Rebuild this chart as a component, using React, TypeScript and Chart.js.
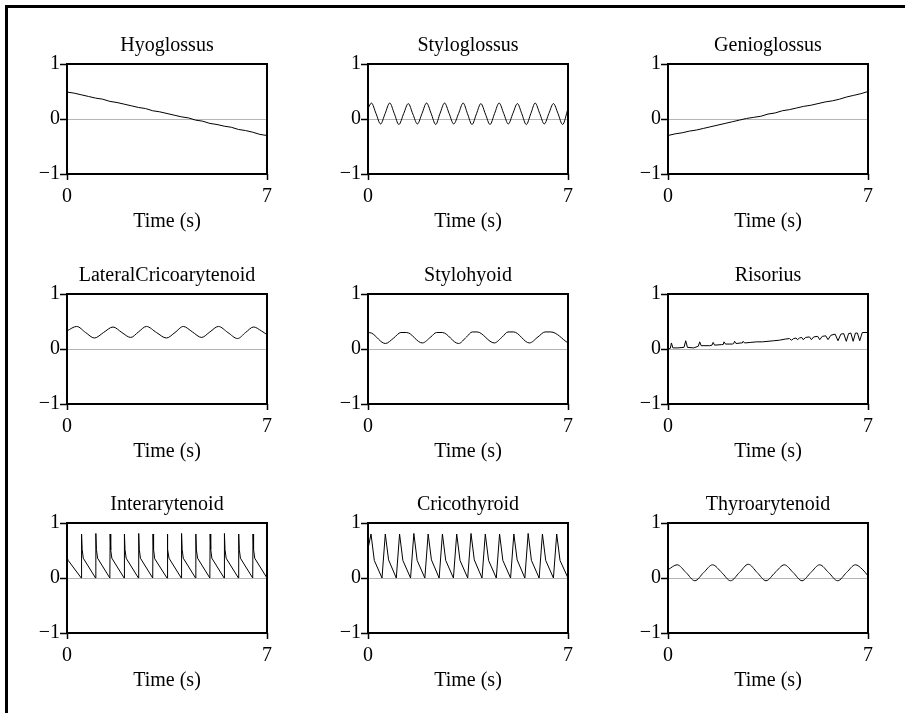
import React, { useEffect, useRef } from "react";
import { Chart, registerables } from "chart.js";

Chart.register(...registerables);

// ---------- data ----------
const TIME_TICKS = [0, 7];
const VALUE_TICKS = [-1, 0, 1];
const X_TITLE = "Time (s)";

const TITLES = [
  "Hyoglossus",
  "Styloglossus",
  "Genioglossus",
  "LateralCricoarytenoid",
  "Stylohyoid",
  "Risorius",
  "Interarytenoid",
  "Cricothyroid",
  "Thyroarytenoid",
];

const HYO_T = [0, 0.25, 0.5, 0.75, 1, 1.25, 1.5, 1.75, 2, 2.25, 2.5, 2.75, 3, 3.25, 3.5, 3.75, 4, 4.25, 4.5, 4.75, 5, 5.25, 5.5, 5.75, 6, 6.25, 6.5, 6.75, 7];
const HYO_V = [0.49, 0.47, 0.44, 0.41, 0.38, 0.36, 0.32, 0.3, 0.27, 0.24, 0.21, 0.19, 0.15, 0.13, 0.1, 0.07, 0.04, 0.02, -0.02, -0.04, -0.08, -0.1, -0.13, -0.15, -0.19, -0.21, -0.24, -0.28, -0.3];

const STYG_T = [0, 0.12, 0.28, 0.44, 0.6, 0.76, 0.92, 1.08, 1.25, 1.41, 1.57, 1.73, 1.89, 2.05, 2.21, 2.37, 2.52, 2.68, 2.84, 3.0, 3.17, 3.33, 3.48, 3.64, 3.8, 3.95, 4.11, 4.27, 4.43, 4.59, 4.75, 4.91, 5.07, 5.23, 5.38, 5.54, 5.7, 5.85, 6.01, 6.17, 6.33, 6.49, 6.65, 6.81, 7.0];
const STYG_V = [0.19, 0.29, 0.1, -0.09, 0.1, 0.29, 0.1, -0.1, 0.1, 0.28, 0.09, -0.09, 0.1, 0.29, 0.1, -0.1, 0.1, 0.29, 0.1, -0.09, 0.1, 0.29, 0.1, -0.1, 0.1, 0.28, 0.09, -0.1, 0.1, 0.29, 0.1, -0.09, 0.1, 0.28, 0.1, -0.1, 0.1, 0.29, 0.1, -0.09, 0.1, 0.28, 0.1, -0.1, 0.19];

const GEN_T = [0, 0.25, 0.5, 0.75, 1, 1.25, 1.5, 1.75, 2, 2.25, 2.5, 2.75, 3, 3.25, 3.5, 3.75, 4, 4.25, 4.5, 4.75, 5, 5.25, 5.5, 5.75, 6, 6.25, 6.5, 6.75, 7];
const GEN_V = [-0.3, -0.27, -0.25, -0.22, -0.2, -0.17, -0.14, -0.11, -0.08, -0.05, -0.02, 0.01, 0.03, 0.05, 0.09, 0.11, 0.15, 0.17, 0.2, 0.23, 0.25, 0.28, 0.31, 0.33, 0.36, 0.4, 0.43, 0.46, 0.5];

const LCA_T = [0, 0.34, 0.65, 0.96, 1.28, 1.61, 1.92, 2.23, 2.5, 2.78, 3.13, 3.48, 3.78, 4.07, 4.39, 4.71, 5.0, 5.3, 5.63, 5.97, 6.25, 6.53, 6.8, 7.0];
const LCA_V = [0.33, 0.41, 0.3, 0.2, 0.3, 0.4, 0.3, 0.21, 0.31, 0.41, 0.3, 0.2, 0.3, 0.41, 0.31, 0.21, 0.31, 0.41, 0.3, 0.19, 0.3, 0.4, 0.33, 0.26];

const STH_T = [0, 0.12, 0.61, 0.9, 1.15, 1.35, 1.9, 2.2, 2.4, 2.6, 3.17, 3.45, 3.65, 3.82, 4.42, 4.7, 4.9, 5.1, 5.65, 5.95, 6.2, 6.4, 7.0];
const STH_V = [0.3, 0.29, 0.1, 0.2, 0.3, 0.3, 0.11, 0.22, 0.3, 0.3, 0.1, 0.22, 0.31, 0.31, 0.11, 0.22, 0.31, 0.31, 0.11, 0.22, 0.31, 0.31, 0.11];

const RIS_T = [0, 0.08, 0.12, 0.17, 0.35, 0.56, 0.62, 0.68, 0.9, 1.06, 1.11, 1.16, 1.45, 1.54, 1.58, 1.63, 1.88, 1.93, 1.96, 2.01, 2.25, 2.3, 2.33, 2.38, 2.56, 2.6, 2.63, 2.68, 2.9, 3.1, 3.3, 3.5, 3.7, 3.9, 4.1, 4.25, 4.32, 4.4, 4.48, 4.53, 4.6, 4.68, 4.73, 4.82, 4.95, 5.02, 5.1, 5.24, 5.31, 5.4, 5.52, 5.6, 5.7, 5.85, 5.95, 6.05, 6.15, 6.24, 6.32, 6.4, 6.48, 6.56, 6.63, 6.71, 6.8, 7.0];
const RIS_V = [0.0, 0.01, 0.11, 0.02, 0.02, 0.03, 0.15, 0.03, 0.02, 0.05, 0.13, 0.06, 0.06, 0.07, 0.12, 0.07, 0.08, 0.08, 0.13, 0.09, 0.09, 0.1, 0.14, 0.1, 0.11, 0.11, 0.14, 0.11, 0.12, 0.13, 0.13, 0.14, 0.15, 0.16, 0.18, 0.19, 0.16, 0.19, 0.2, 0.17, 0.2, 0.21, 0.17, 0.21, 0.22, 0.17, 0.22, 0.23, 0.17, 0.23, 0.24, 0.17, 0.25, 0.27, 0.15, 0.27, 0.28, 0.14, 0.28, 0.29, 0.14, 0.29, 0.29, 0.15, 0.3, 0.3];

const IA_T = [0, 0.04, 0.5, 0.51, 0.53, 0.57, 1.0, 1.01, 1.03, 1.07, 1.5, 1.51, 1.53, 1.57, 2.0, 2.01, 2.03, 2.07, 2.5, 2.51, 2.53, 2.57, 3.0, 3.01, 3.03, 3.07, 3.5, 3.51, 3.53, 3.57, 4.0, 4.01, 4.03, 4.07, 4.5, 4.51, 4.53, 4.57, 5.0, 5.01, 5.03, 5.07, 5.5, 5.51, 5.53, 5.57, 6.0, 6.01, 6.03, 6.07, 6.5, 6.51, 6.53, 6.57, 7.0];
const IA_V = [0.38, 0.32, 0.0, 0.8, 0.52, 0.36, 0.0, 0.81, 0.52, 0.36, 0.0, 0.8, 0.51, 0.36, 0.0, 0.8, 0.52, 0.36, 0.0, 0.81, 0.52, 0.36, 0.0, 0.8, 0.52, 0.35, 0.0, 0.8, 0.52, 0.36, 0.0, 0.81, 0.52, 0.36, 0.0, 0.8, 0.51, 0.36, 0.0, 0.8, 0.52, 0.36, 0.0, 0.81, 0.52, 0.36, 0.0, 0.8, 0.52, 0.36, 0.0, 0.8, 0.52, 0.36, 0.0];

const CT_T = [0, 0.105, 0.22, 0.49, 0.605, 0.72, 0.99, 1.105, 1.22, 1.49, 1.605, 1.72, 1.99, 2.105, 2.22, 2.49, 2.605, 2.72, 2.99, 3.105, 3.22, 3.49, 3.605, 3.72, 3.99, 4.105, 4.22, 4.49, 4.605, 4.72, 4.99, 5.105, 5.22, 5.49, 5.605, 5.72, 5.99, 6.105, 6.22, 6.49, 6.605, 6.72, 7.0];
const CT_V = [0.53, 0.8, 0.32, 0.0, 0.8, 0.33, 0.0, 0.8, 0.32, 0.0, 0.81, 0.32, 0.0, 0.8, 0.33, 0.0, 0.8, 0.32, 0.0, 0.8, 0.32, 0.0, 0.81, 0.33, 0.0, 0.8, 0.32, 0.0, 0.8, 0.32, 0.0, 0.8, 0.33, 0.0, 0.81, 0.32, 0.0, 0.8, 0.32, 0.0, 0.8, 0.32, 0.0];

const TA_T = [0, 0.32, 0.63, 0.94, 1.25, 1.56, 1.88, 2.19, 2.5, 2.81, 3.12, 3.43, 3.75, 4.07, 4.38, 4.69, 5.0, 5.31, 5.62, 5.94, 6.25, 6.56, 6.8, 7.0];
const TA_V = [0.15, 0.24, 0.1, -0.05, 0.1, 0.24, 0.1, -0.05, 0.1, 0.25, 0.1, -0.05, 0.1, 0.24, 0.1, -0.05, 0.1, 0.24, 0.1, -0.05, 0.1, 0.24, 0.16, 0.04];

const SERIES_T = [HYO_T, STYG_T, GEN_T, LCA_T, STH_T, RIS_T, IA_T, CT_T, TA_T];
const SERIES_V = [HYO_V, STYG_V, GEN_V, LCA_V, STH_V, RIS_V, IA_V, CT_V, TA_V];
const SMOOTH = [false, true, false, true, true, false, false, false, true];

// ---------- layout ----------
const PLOT_LEFT = [67, 368, 668];
const PLOT_TOP = [64, 294, 523];
const PLOT_W = 200;
const PLOT_H = 110;
const Y_AXIS_W = 60;
const TITLE_H = 40;
const X_AXIS_H = 79;
const CANVAS_W = Y_AXIS_W * 2 + PLOT_W;
const CANVAS_H = TITLE_H + PLOT_H + X_AXIS_H;

const FONT = "'Liberation Serif', 'Times New Roman', serif";
const font = { family: FONT, size: 20, weight: "normal" as const, lineHeight: 1.2 };

const fmt = (v: number) => (v < 0 ? "\u2212" + Math.abs(v) : String(v));

const boxPlugin = {
  id: "panelBox",
  afterDraw(chart: any) {
    const { left, top, right, bottom } = chart.chartArea;
    const ctx = chart.ctx;
    ctx.save();
    ctx.lineWidth = 2;
    ctx.strokeStyle = "#000";
    ctx.strokeRect(left, top, right - left, bottom - top);
    ctx.restore();
  },
};

function Panel({ idx }: { idx: number }) {
  const ref = useRef<HTMLCanvasElement | null>(null);
  const col = idx % 3;
  const row = Math.floor(idx / 3);
  useEffect(() => {
    const t = SERIES_T[idx];
    const v = SERIES_V[idx];
    const chart = new Chart(ref.current as HTMLCanvasElement, {
      type: "line",
      data: {
        datasets: [
          {
            data: t.map((x, i) => ({ x, y: v[i] })),
            borderColor: "#000",
            borderWidth: 1,
            pointRadius: 0,
            fill: false,
            tension: 0,
            cubicInterpolationMode: SMOOTH[idx] ? "monotone" : "default",
          } as any,
        ],
      },
      options: {
        animation: false,
        responsive: false,
        maintainAspectRatio: false,
        events: [],
        layout: { padding: { top: 0, right: Y_AXIS_W, bottom: 0, left: 0 } },
        plugins: {
          legend: { display: false },
          tooltip: { enabled: false },
          title: {
            display: true,
            text: TITLES[idx],
            fullSize: false,
            color: "#000",
            font,
            padding: { top: 10, bottom: 6 },
          },
        },
        scales: {
          x: {
            type: "linear",
            min: 0,
            max: 7,
            afterBuildTicks: (s: any) => {
              s.ticks = TIME_TICKS.map((value) => ({ value }));
            },
            afterFit: (s: any) => {
              s.height = X_AXIS_H;
            },
            grid: {
              drawOnChartArea: false,
              drawTicks: true,
              tickLength: 6,
              tickColor: "#000",
              tickWidth: 1.5,
            },
            border: { display: false },
            ticks: {
              padding: 5,
              color: "#000",
              font,
              maxRotation: 0,
              autoSkip: false,
              callback: (val: any) => fmt(Number(val)),
            },
            title: {
              display: true,
              text: X_TITLE,
              color: "#000",
              font,
              padding: { top: 0, bottom: 19 },
            },
          },
          y: {
            type: "linear",
            min: -1,
            max: 1,
            afterBuildTicks: (s: any) => {
              s.ticks = VALUE_TICKS.map((value) => ({ value }));
            },
            afterFit: (s: any) => {
              s.width = Y_AXIS_W;
            },
            grid: {
              color: (c: any) => (c.tick && c.tick.value === 0 ? "#b5b5b5" : "rgba(0,0,0,0)"),
              lineWidth: 1,
              drawTicks: true,
              tickLength: 7,
              tickColor: "#000",
              tickWidth: 1.5,
            },
            border: { display: false },
            ticks: {
              padding: 0,
              color: "#000",
              font,
              autoSkip: false,
              callback: (val: any) => fmt(Number(val)),
            },
          },
        },
      } as any,
      plugins: [boxPlugin],
    });
    return () => chart.destroy();
  }, [idx]);
  return (
    <canvas
      ref={ref}
      width={CANVAS_W}
      height={CANVAS_H}
      style={{
        position: "absolute",
        left: PLOT_LEFT[col] - Y_AXIS_W,
        top: PLOT_TOP[row] - TITLE_H,
        width: CANVAS_W,
        height: CANVAS_H,
      }}
    />
  );
}

export default function App() {
  return (
    <div
      style={{
        position: "absolute",
        left: 0,
        top: 0,
        width: 905,
        height: 713,
        overflow: "hidden",
        background: "#fff",
      }}
    >
      <div
        style={{
          position: "absolute",
          left: 5,
          top: 5,
          width: 1200,
          height: 1200,
          borderLeft: "3px solid #000",
          borderTop: "3px solid #000",
        }}
      />
      {TITLES.map((_, i) => (
        <Panel key={i} idx={i} />
      ))}
    </div>
  );
}
